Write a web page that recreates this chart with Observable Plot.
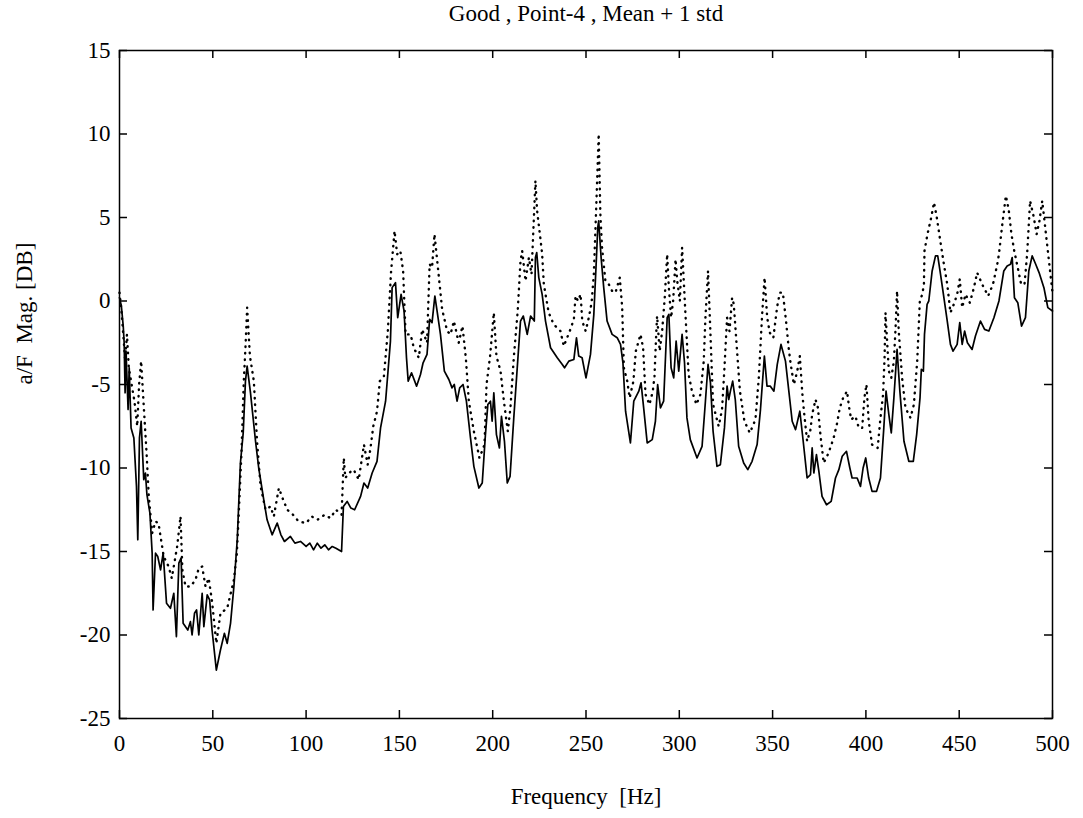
<!DOCTYPE html>
<html>
<head>
<meta charset="utf-8">
<script src="https://cdn.jsdelivr.net/npm/d3@7"></script>
<script src="https://cdn.jsdelivr.net/npm/@observablehq/plot@0.6"></script>
<style>
  html, body { margin: 0; padding: 0; background: #fff; }
  #chart { width: 1083px; height: 818px; }
</style>
</head>
<body>
<div id="chart"></div>
<script>
const titleText = "Good , Point-4 , Mean + 1 std";
const xLabelText = "Frequency  [Hz]";
const yLabelText = "a/F  Mag. [DB]";
const xDomain = [0, 500];
const yDomain = [-25, 15];
const xTicks = [0, 50, 100, 150, 200, 250, 300, 350, 400, 450, 500];
const yTicks = [-25, -20, -15, -10, -5, 0, 5, 10, 15];

// Mean (solid line)
const meanFreq = [0,1,2,2.5,3,3.5,4,4.6,5.2,6.2,7.7,9.1,9.8,10.7,11.6,13,13.9,14.7,16.3,17.5,18,19.3,20.5,22,23.4,25.2,27.3,29.1,30.5,31.8,33,34.1,36.6,38,38.9,40.2,41.3,42.5,44.3,45.2,47,48.3,49.6,51.9,54.1,56.2,57.7,59.5,61.3,63.1,64.8,66.3,67.5,68.4,70.2,72.9,74.6,77.3,79.1,81.8,84.5,86.5,88.4,91.6,94,97,100,102,104,106,108,110,112,114,116,119,120,122,124,126,129.2,131,133,135.4,138,139.9,142.6,145.2,146.1,147.9,149.1,150.9,152.5,153.8,154.7,156.5,159.2,161.3,162.7,164.8,166.2,167.5,169,170.2,172,174.1,176.5,178.2,179.4,180.9,182.3,184.1,185.9,188.1,189.9,192.6,194.4,196.1,197.4,198.8,199.7,200.6,202,203.6,204.7,206.3,207.8,209.3,211.3,213.4,214.9,216.4,218.5,220.3,222.3,222.9,223.6,224.7,226.5,228.3,231,234.6,237.3,238.5,240.8,243.5,244.9,246.1,247.9,250,252.4,254.2,255.6,256.3,256.8,258.1,259.5,261.3,264,266.7,268.5,269.8,271.2,273.8,275.6,278.3,279.5,280.9,282.8,285.5,287.2,288.4,289.9,291.6,293.5,294.4,295.6,297,298.3,299.7,301.5,302.8,304.1,305.9,309.5,312.2,314,315.4,316.7,318.1,320.2,322,324.2,325.6,326.5,327.4,328.6,330,331.8,334.5,336.7,339,341.7,343.5,345.6,347,348.8,350.7,352.5,354.5,356.9,358.7,360.5,362.3,364.6,366.4,368.5,370.3,371.2,372.1,373.5,374.8,376.5,378.9,381.4,383.7,385.5,387.3,389.6,391.4,392.6,395.3,397.1,398.5,399.9,401.5,403.3,405.7,407.8,409.6,410.8,412.3,413.6,415,416.7,418.2,420.4,423,425.4,427.2,429,429.7,430.8,431.4,432.8,433.7,435.5,437.3,438.5,440,441.8,443.6,445.3,446.7,448.9,450.3,451.6,452.9,454.4,456.9,458.7,461.4,463.6,465.9,468.6,471.3,473.9,475.7,477.5,478.4,479.6,481.4,483.4,485.5,487.3,489.1,491,492.8,495.4,496.8,497.5,500];
const meanDb = [0.2,-0.3,-1.5,-2.5,-5.5,-3.0,-4.6,-6.5,-4.0,-7.6,-8.2,-11.1,-14.3,-8.2,-7.2,-10.7,-10.3,-11.6,-12.7,-15.1,-18.5,-15.1,-15.3,-16.1,-15.1,-18.1,-18.4,-17.5,-20.1,-15.7,-15.4,-19.3,-19.7,-19.2,-20.0,-18.7,-18.5,-20.0,-17.5,-19.5,-17.6,-17.9,-19.7,-22.1,-20.9,-19.9,-20.5,-19.3,-17.1,-14.3,-9.7,-7.9,-4.8,-3.9,-5.5,-8.4,-10.0,-11.9,-13.1,-14.0,-13.3,-14.0,-14.4,-14.1,-14.5,-14.4,-14.7,-14.5,-14.9,-14.5,-14.8,-14.6,-14.9,-14.7,-14.8,-15.0,-12.3,-12.0,-12.4,-12.5,-11.7,-10.9,-11.2,-10.3,-9.6,-7.6,-6.0,-2.4,0.8,1.1,-1.0,0.4,-0.6,-3.4,-4.8,-4.3,-5.1,-4.4,-3.7,-3.2,-1.1,-1.3,0.3,-0.6,-2.0,-4.2,-4.7,-5.2,-5.0,-6.0,-5.2,-5.0,-6.0,-8.2,-9.9,-11.2,-10.9,-8.0,-6.2,-6.0,-7.2,-5.5,-8.0,-8.8,-6.9,-8.4,-10.9,-10.5,-7.0,-3.6,-1.2,-0.9,-2.0,-0.9,-1.2,2.6,2.9,1.4,0.4,-1.2,-2.8,-3.4,-3.8,-4.0,-3.6,-3.5,-2.2,-3.3,-3.4,-4.6,-3.2,-0.8,2.6,4.4,4.8,2.6,0.8,-1.2,-2.0,-2.2,-2.6,-3.7,-6.6,-8.5,-6.0,-5.4,-4.9,-6.4,-8.5,-8.3,-7.2,-5.0,-6.4,-6.0,-1.0,-0.8,-4.0,-4.6,-2.4,-4.2,-2.0,-3.7,-7.0,-8.3,-9.4,-8.7,-6.0,-3.8,-4.9,-7.8,-9.9,-9.8,-7.6,-5.1,-5.9,-5.4,-4.8,-5.9,-8.7,-9.7,-10.1,-9.6,-8.6,-6.5,-3.3,-5.1,-5.1,-5.4,-3.8,-2.6,-3.6,-5.4,-7.2,-7.7,-6.6,-8.4,-10.6,-10.4,-8.8,-10.3,-9.2,-10.2,-11.7,-12.2,-12.0,-10.6,-10.1,-9.3,-9.0,-10.0,-10.6,-10.6,-11.1,-10.0,-9.4,-10.6,-11.4,-11.4,-10.6,-7.6,-5.4,-6.8,-7.9,-5.8,-2.9,-5.4,-8.4,-9.6,-9.6,-8.0,-5.8,-4.1,-4.2,-2.0,-0.2,0.0,1.8,2.7,2.7,1.6,0.2,-1.2,-2.6,-3.0,-2.6,-1.3,-2.6,-1.8,-2.5,-2.9,-2.1,-1.2,-1.7,-1.8,-1.0,0.0,1.8,2.1,2.2,2.6,0.2,-0.1,-1.5,-1.0,1.8,2.7,2.2,1.7,0.8,0.0,-0.4,-0.6];

// Mean + 1 std (dotted line)
const stdFreq = [0,1,2,3,4,5,6.5,8,9.5,10.5,11.6,13,14.5,15.7,17.5,19.3,20.9,22,23.7,26.3,28,30.9,32.7,33.7,35.4,38,40.7,42.5,44.3,46.1,47.8,49.6,51.9,54.1,57.7,61.3,62.9,64,65.4,66.6,67.5,68.4,69.9,72,73.7,75.6,78.3,80.9,82.7,85.4,87.7,89.9,93,96,100,103,106,110,113,116,119,120.2,121,122.9,125.5,128.2,131,133,134.4,136,138,139.5,141.7,143.8,145.5,147.4,148.8,150.5,152,153.3,156,157.7,160.4,162.2,164.8,166.2,167.5,168.8,171.1,172.9,175.6,177.4,179.2,181.8,183.8,185.6,187.2,189.9,192.9,195.6,196.7,198.6,200.6,202,204.2,206,208.1,209.5,211.3,213.4,214.9,215.8,217.6,219.4,220.8,222.9,223.8,225.6,226.5,227.4,230,232.7,236.3,238.1,241.3,243.5,244.4,245.7,247.1,248,249.8,251.5,253,254.2,255.6,256.5,256.8,257.7,258.6,260.4,262.2,264,265.8,268.1,269.4,270.3,272.1,273.4,275.4,276.7,279.2,280.6,281.9,284,285.8,286.7,287.7,288.1,289.5,290.8,292.2,293.5,294.4,295.6,296.7,298,298.9,300.3,301.5,302.4,303.3,305,306.8,309.2,311.3,313.1,314,314.9,315.4,316.3,318.1,321.1,322.9,324.2,325.6,326.9,328.3,329.2,330.7,332.5,334.9,337.8,340.8,342.6,344.4,345.7,347.1,348.5,350.4,351.6,352.5,353.9,355.5,357.2,358.7,359.6,361.4,363.2,364.6,365.9,366.8,368.5,370.3,371.2,373,374.3,375.7,377.4,380,382.7,384.6,386,387.8,389.9,390.9,392.1,394.4,396.2,398,399.2,400.3,401.5,403.3,406.3,407.8,409.2,410,410.5,411.4,412.3,413.6,415,415.9,416.7,417.6,419.4,421.2,423.9,425.7,427.5,428.9,430.2,431.1,431.4,433,435,436.5,438,440,441.8,443.6,445.3,447.1,448.9,450.3,451.6,453.4,455.7,457.9,459.6,462.3,465.5,468.1,470.4,471.3,473,475,476.5,478,479.5,481,483.2,485,486.4,488,490,491.5,493,494.5,496,497.5,499,500];
const stdDb = [0.5,-0.5,-2.0,-3.5,-2.0,-4.0,-5.0,-6.0,-7.5,-5.0,-3.6,-6.3,-9.1,-11.7,-13.9,-13.2,-13.3,-14.1,-15.3,-15.9,-16.6,-14.7,-12.9,-16.1,-17.1,-17.1,-16.7,-16.0,-15.9,-17.1,-16.6,-18.0,-20.5,-18.7,-18.4,-16.7,-15.1,-12.5,-9.0,-4.8,-2.8,-0.4,-3.3,-4.8,-8.4,-11.1,-12.5,-12.3,-12.9,-11.2,-11.9,-12.5,-12.8,-13.2,-13.3,-12.9,-13.1,-12.8,-13.0,-12.5,-12.8,-9.4,-10.6,-10.3,-10.1,-10.7,-8.6,-9.8,-8.9,-7.5,-6.6,-4.8,-4.5,-1.8,1.7,4.2,2.8,3.0,1.8,-2.0,-2.0,-2.8,-3.4,-1.7,-2.5,2.2,2.0,4.0,1.5,-0.5,-1.8,-2.0,-1.2,-2.5,-1.5,-3.4,-6.0,-7.8,-9.4,-8.6,-5.0,-3.3,-0.7,-3.3,-4.2,-6.0,-7.8,-6.4,-3.4,-0.6,2.4,3.0,1.2,2.6,1.6,7.2,5.4,3.7,2.8,1.0,-0.7,-1.4,-1.8,-2.7,-1.8,-1.1,0.3,0.0,0.4,-1.2,-1.8,-1.0,-0.1,1.6,6.0,9.0,10.0,5.2,3.2,1.2,1.0,0.6,0.5,1.4,-0.4,-4.0,-4.8,-5.8,-4.8,-3.0,-2.0,-2.8,-5.6,-6.2,-5.4,-4.5,-1.8,-0.9,-3.0,-1.8,0.2,2.8,0.8,-1.0,0.0,2.5,1.2,0.0,3.2,1.2,-0.8,-4.4,-5.4,-6.2,-5.6,-3.6,-1.0,0.8,1.8,-0.8,-6.2,-7.5,-6.5,-4.0,-1.0,-1.8,0.2,-0.2,-2.6,-5.4,-7.2,-7.9,-7.1,-4.6,-0.8,1.4,-1.0,-1.9,-2.2,-1.1,-0.3,0.5,0.5,-1.2,-2.9,-3.7,-5.0,-4.2,-3.3,-5.5,-6.6,-8.4,-7.7,-6.8,-5.9,-6.4,-8.1,-9.7,-9.1,-8.2,-7.3,-6.4,-5.8,-5.4,-6.3,-7.1,-6.9,-7.6,-7.6,-5.8,-5.0,-7.2,-8.6,-8.8,-7.0,-5.6,-3.4,-0.7,-2.5,-4.2,-4.6,-3.6,-1.6,0.6,-1.8,-4.6,-6.4,-7.0,-6.2,-3.6,0.0,0.4,1.0,3.0,4.0,5.0,5.9,5.0,3.5,2.2,1.0,-0.7,-0.2,0.4,1.3,-0.4,0.4,-0.1,0.8,1.7,1.0,0.3,1.0,2.2,2.8,4.5,6.3,5.5,4.0,3.0,2.2,1.0,1.0,2.8,6.0,5.0,4.0,4.8,6.0,4.5,3.0,1.5,0.5];

const meanData = meanFreq.map((f, i) => ({f, v: meanDb[i]}));
const stdData = stdFreq.map((f, i) => ({f, v: stdDb[i]}));

const font = "'Liberation Serif', 'Times New Roman', serif";
const plain = d => String(d);

// layout
const W = 1083, H = 818;
const mL = 119, mR = 31, mT = 50, mB = 100;
const tickLen = 8; // pixels
// tick length converted to data units through the plot's frame size
const xTickUnits = (xDomain[1] - xDomain[0]) * tickLen / (W - mL - mR);
const yTickUnits = (yDomain[1] - yDomain[0]) * tickLen / (H - mT - mB);

const chart = Plot.plot({
  width: W,
  height: H,
  marginLeft: mL,
  marginRight: mR,
  marginTop: mT,
  marginBottom: mB,
  style: {fontFamily: font, fontSize: "23px", color: "#000", background: "#fff"},
  x: {domain: xDomain, axis: null},
  y: {domain: yDomain, axis: null},
  marks: [
    Plot.frame({stroke: "#000", strokeWidth: 1.5}),
    // tick labels
    Plot.axisX(xTicks, {anchor: "bottom", tickSize: 0, tickPadding: 16, tickFormat: plain, label: null, fontSize: 23}),
    Plot.axisY(yTicks, {anchor: "left", tickSize: 0, tickPadding: 9, tickFormat: plain, label: null, fontSize: 23}),
    // inward ticks on all four sides
    Plot.ruleX(xTicks, {x: d => d, y1: yDomain[0], y2: yDomain[0] + yTickUnits, stroke: "#000", strokeWidth: 1.5}),
    Plot.ruleX(xTicks, {x: d => d, y1: yDomain[1] - yTickUnits, y2: yDomain[1], stroke: "#000", strokeWidth: 1.5}),
    Plot.ruleY(yTicks, {y: d => d, x1: xDomain[0], x2: xDomain[0] + xTickUnits, stroke: "#000", strokeWidth: 1.5}),
    Plot.ruleY(yTicks, {y: d => d, x1: xDomain[1] - xTickUnits, x2: xDomain[1], stroke: "#000", strokeWidth: 1.5}),
    Plot.line(stdData, {x: "f", y: "v", stroke: "#000", strokeWidth: 2.4, strokeDasharray: "0.5 6", strokeLinecap: "round"}),
    Plot.line(meanData, {x: "f", y: "v", stroke: "#000", strokeWidth: 1.7}),
    Plot.text([titleText], {frameAnchor: "top", dy: -46, fontSize: 23, text: d => d}),
    Plot.text([xLabelText], {frameAnchor: "bottom", dy: 85, fontSize: 23, text: d => d}),
    Plot.text([yLabelText], {frameAnchor: "left", dx: -95, rotate: -90, fontSize: 23, text: d => d})
  ]
});
document.getElementById("chart").appendChild(chart);
</script>
</body>
</html>
